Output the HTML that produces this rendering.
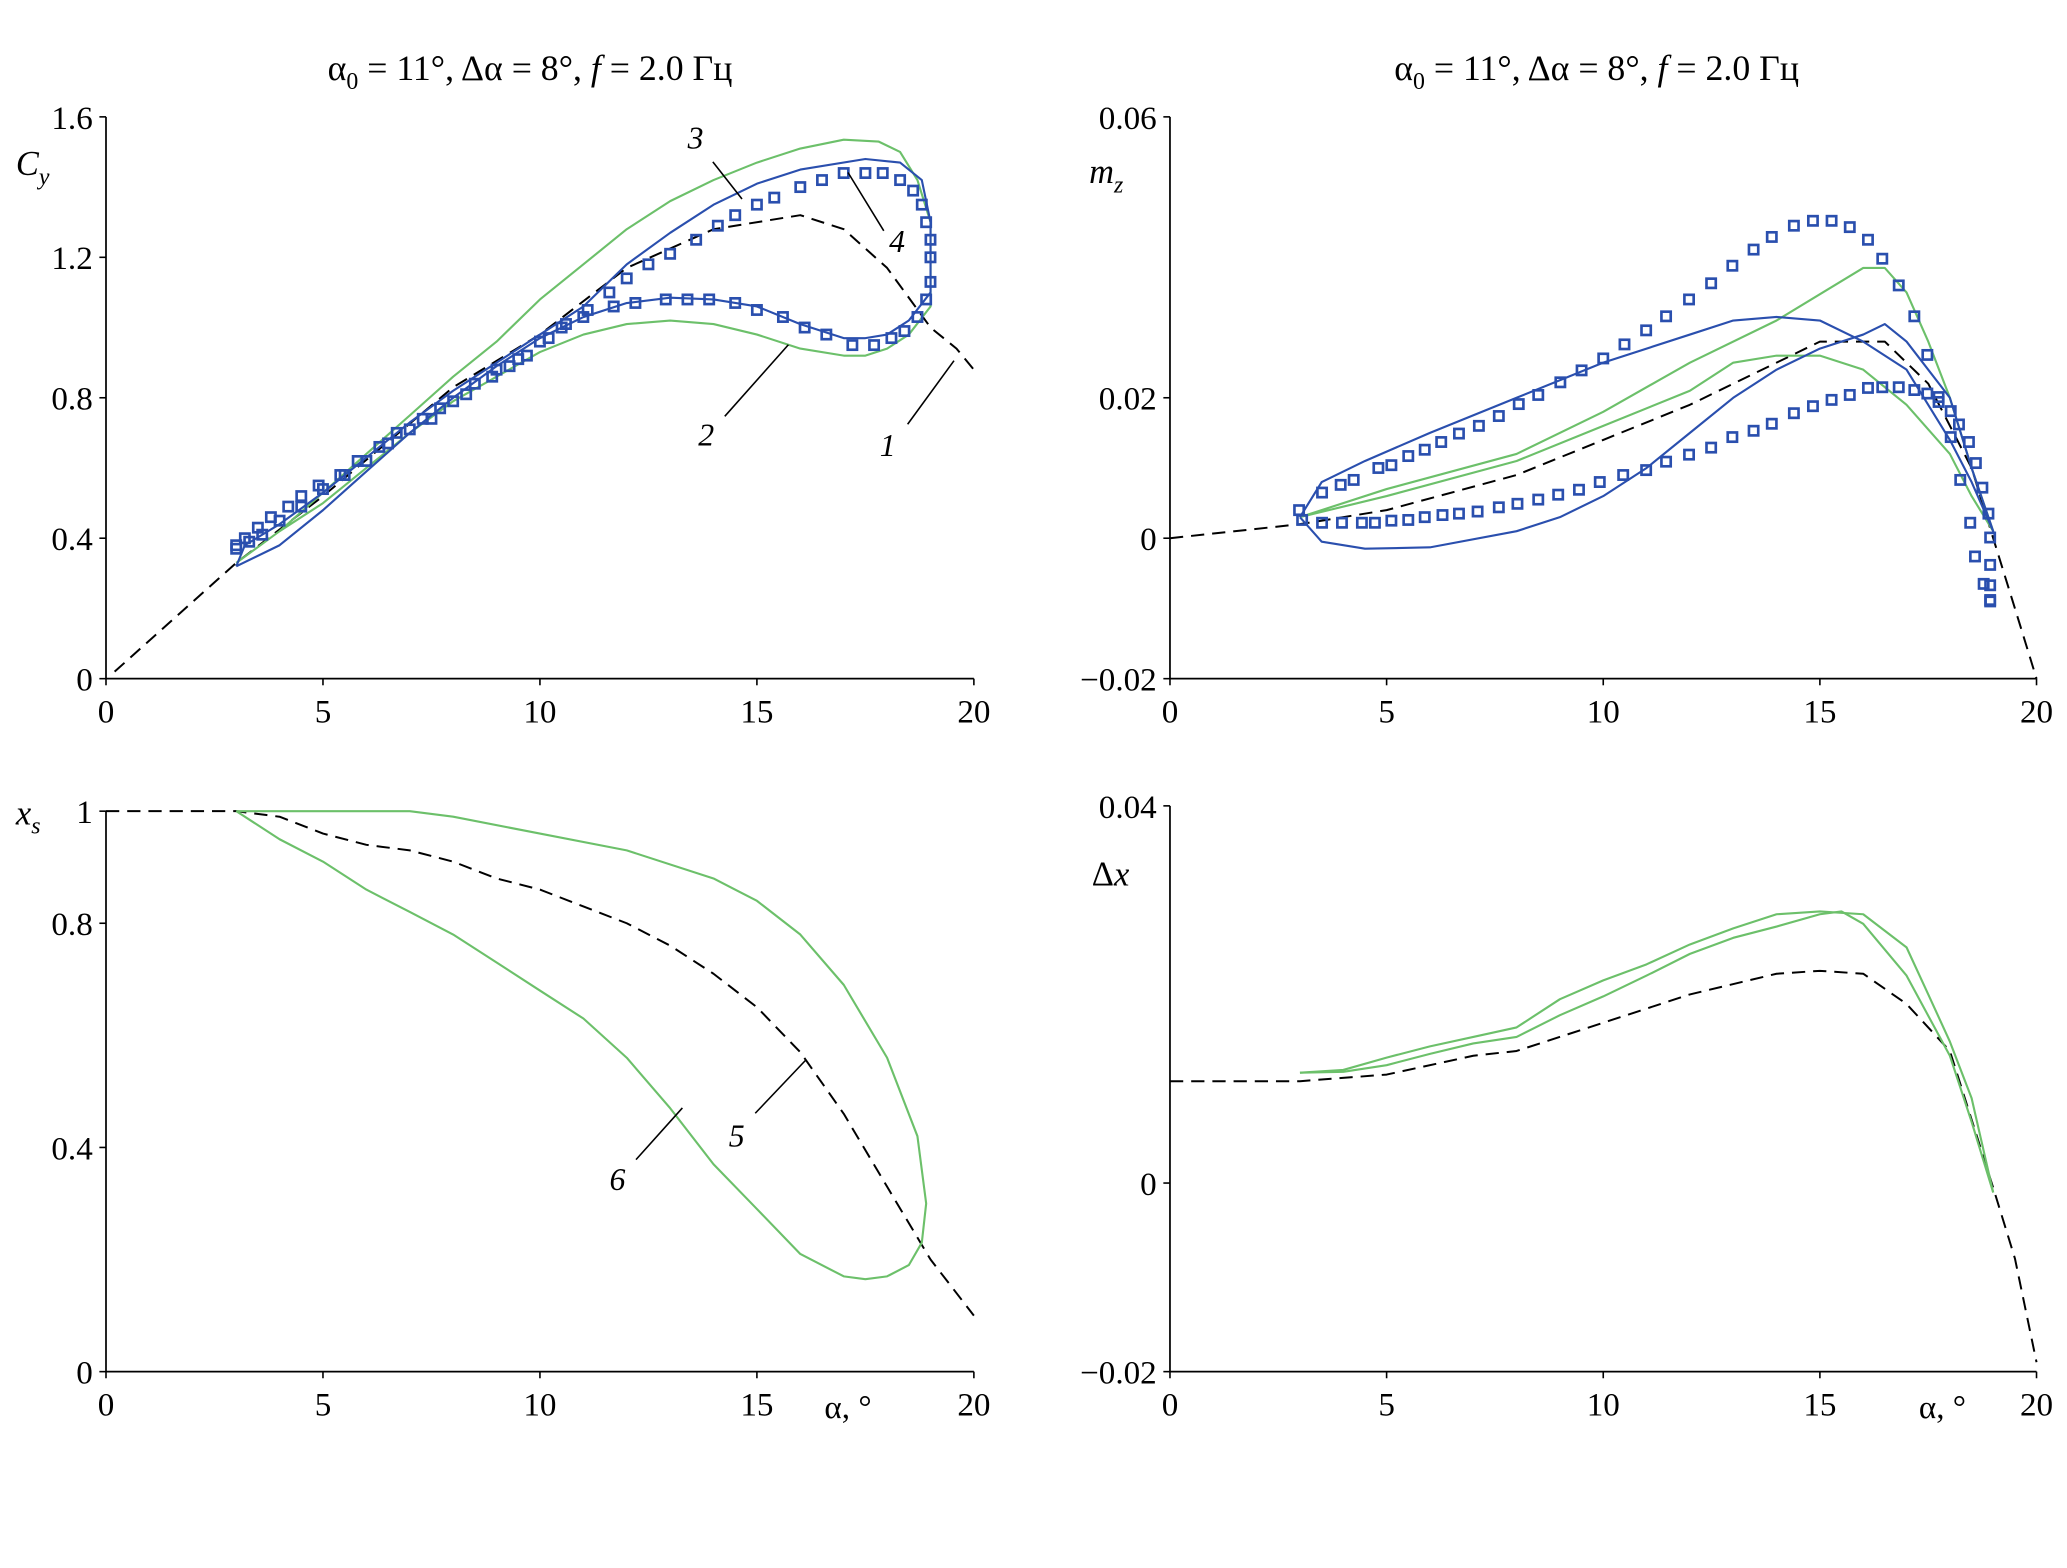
<!DOCTYPE html>
<html><head><meta charset="utf-8">
<style>
html,body{margin:0;padding:0;background:#fff;}
svg{display:block;font-family:"Liberation Serif",serif;}
</style></head>
<body>
<svg id="fig" width="2067" height="1568" viewBox="0 0 1560 1183" xmlns="http://www.w3.org/2000/svg">
<rect width="1560" height="1183" fill="#fff"/>
<text x="400" y="60" font-size="27" text-anchor="middle">α<tspan font-size="18" dy="7">0</tspan><tspan dy="-7"> = 11°, Δα = 8°, </tspan><tspan font-style="italic">f</tspan> = 2.0 Гц</text>
<text x="1205" y="60" font-size="27" text-anchor="middle">α<tspan font-size="18" dy="7">0</tspan><tspan dy="-7"> = 11°, Δα = 8°, </tspan><tspan font-style="italic">f</tspan> = 2.0 Гц</text>
<text x="12" y="132" font-size="26" font-style="italic">C<tspan font-size="18" dy="7">y</tspan></text>
<text x="822" y="138" font-size="26" font-style="italic">m<tspan font-size="18" dy="7">z</tspan></text>
<text x="12" y="622" font-size="26" font-style="italic">x<tspan font-size="18" dy="7">s</tspan></text>
<text x="824" y="668" font-size="26">Δ<tspan font-style="italic">x</tspan></text>
<text x="640" y="1070" font-size="25" text-anchor="middle">α, °</text>
<text x="1466" y="1070" font-size="25" text-anchor="middle">α, °</text>
<g id="plots"></g>
</svg>
<script>
// ---- Cy panel data
const cyStaticA=[0.2,3,5,8,10,12,14,16,17,18,19,19.6,20];
const cyStaticV=[0.02,0.33,0.52,0.83,0.98,1.17,1.28,1.32,1.28,1.17,1.0,0.94,0.88];
const cyGreenA=[3,4,5,6,7,8,9,10,11,12,13,14,15,16,17,17.5,18,18.5,19,19,18.7,18.3,17.8,17,16,15,14,13,12,11,10,9,8,7,6,5,4,3];
const cyGreenV=[0.33,0.42,0.5,0.6,0.7,0.79,0.86,0.93,0.98,1.01,1.02,1.01,0.98,0.94,0.92,0.92,0.94,0.98,1.06,1.3,1.42,1.5,1.53,1.535,1.51,1.47,1.42,1.36,1.28,1.18,1.08,0.96,0.86,0.75,0.64,0.53,0.42,0.33];
const cyBlueA=[3,4,5,6,7,8,9,10,11,12,13,14,15,16,17,17.5,18,18.5,19,19,18.8,18.3,17.5,16,15,14,13,12,11,10,9,8,7,6,5,4,3.2,3];
const cyBlueV=[0.32,0.38,0.48,0.59,0.7,0.8,0.89,0.97,1.03,1.07,1.085,1.08,1.06,1.01,0.97,0.97,0.98,1.02,1.1,1.3,1.42,1.47,1.48,1.45,1.41,1.35,1.27,1.18,1.06,0.98,0.9,0.82,0.73,0.63,0.53,0.44,0.38,0.32];
const cyExpA=[3,3.2,3.5,3.8,4.2,4.5,4.9,5.4,5.8,6.3,6.7,7.3,7.7,8.3,8.9,9.3,9.7,10.2,10.6,11.1,11.6,12,12.5,13,13.6,14.1,14.5,15,15.4,16,16.5,17,17.5,17.9,18.3,18.6,18.8,18.9,19,19,19,18.9,18.7,18.4,18.1,17.7,17.2,16.6,16.1,15.6,15,14.5,13.9,13.4,12.9,12.2,11.7,11,10.5,10,9.5,9,8.5,8,7.5,7,6.5,6,5.5,5,4.5,4,3.6,3.3,3];
const cyExpV=[0.38,0.4,0.43,0.46,0.49,0.52,0.55,0.58,0.62,0.66,0.7,0.74,0.77,0.81,0.86,0.89,0.92,0.97,1.01,1.05,1.1,1.14,1.18,1.21,1.25,1.29,1.32,1.35,1.37,1.4,1.42,1.44,1.44,1.44,1.42,1.39,1.35,1.3,1.25,1.2,1.13,1.08,1.03,0.99,0.97,0.95,0.95,0.98,1.0,1.03,1.05,1.07,1.08,1.08,1.08,1.07,1.06,1.03,1.0,0.96,0.91,0.88,0.84,0.79,0.74,0.71,0.67,0.62,0.58,0.54,0.49,0.45,0.41,0.39,0.37];
// ---- mz panel data
const mzStaticA=[0,3,5,8,10,12,14,15,16.5,17.5,18.5,19,19.5,20];
const mzStaticV=[0,0.002,0.004,0.009,0.014,0.019,0.025,0.028,0.028,0.022,0.01,0.0,-0.01,-0.02];
const mzGreenA=[3,5,8,10,12,14,16,16.5,17,17.5,18,18.5,19,18.5,18,17,16,15,14,13,12,10,8,5,3];
const mzGreenV=[0.003,0.007,0.012,0.018,0.025,0.031,0.0385,0.0385,0.035,0.028,0.02,0.01,0.001,0.006,0.012,0.019,0.024,0.026,0.026,0.025,0.021,0.016,0.011,0.006,0.003];
const mzBlueA=[3,3.5,4.5,6,8,9,10,11,12,13,14,15,16,16.5,17,18,18.5,19,18.5,18,17,16,15,14,13,12,10,8,6,4.5,3.5,3];
const mzBlueV=[0.003,-0.0005,-0.0015,-0.0013,0.001,0.003,0.006,0.010,0.015,0.020,0.024,0.027,0.029,0.0305,0.028,0.02,0.01,0.001,0.008,0.014,0.024,0.028,0.031,0.0315,0.031,0.029,0.025,0.020,0.015,0.011,0.008,0.003];
const mzExpUpA=[2.98,3.51,3.94,4.24,4.81,5.11,5.5,5.88,6.26,6.67,7.13,7.59,8.05,8.5,9.01,9.5,10,10.49,10.99,11.45,11.98,12.49,12.98,13.47,13.89,14.4,14.84,15.27,15.69,16.11,16.44,16.82,17.18,17.48,17.74,18.02,18.24,18.47,18.58,18.78,18.93];
const mzExpUpV=[0.004,0.0065,0.0076,0.0083,0.01,0.0104,0.0117,0.0126,0.0137,0.0149,0.016,0.0174,0.0191,0.0204,0.0222,0.0239,0.0256,0.0276,0.0296,0.0316,0.034,0.0363,0.0388,0.0411,0.0429,0.0445,0.0452,0.0452,0.0443,0.0425,0.0398,0.036,0.0316,0.0261,0.0201,0.0144,0.0083,0.0022,-0.0026,-0.0065,-0.009];
const mzExpLoA=[3.05,3.51,3.97,4.43,4.73,5.11,5.5,5.88,6.29,6.67,7.1,7.59,8.02,8.5,8.96,9.44,9.92,10.46,10.99,11.45,11.98,12.49,12.98,13.47,13.89,14.4,14.84,15.27,15.69,16.11,16.44,16.82,17.18,17.48,17.74,18.02,18.21,18.44,18.6,18.75,18.89,18.93,18.93,18.93,18.93];
const mzExpLoV=[0.0026,0.0022,0.0022,0.0022,0.0022,0.0025,0.0026,0.003,0.0033,0.0035,0.0038,0.0044,0.0049,0.0055,0.0062,0.0069,0.008,0.009,0.0097,0.0109,0.0119,0.0129,0.0144,0.0153,0.0163,0.0178,0.0188,0.0197,0.0204,0.0214,0.0215,0.0215,0.0211,0.0206,0.0194,0.0181,0.0162,0.0137,0.0107,0.0072,0.0035,0.0001,-0.0038,-0.0067,-0.0088];
// ---- xs panel data
const xsStaticA=[0,3,4,5,6,7,8,9,10,11,12,13,14,15,16,17,18,19,20];
const xsStaticV=[1,1,0.99,0.96,0.94,0.93,0.91,0.88,0.86,0.83,0.8,0.76,0.71,0.65,0.57,0.46,0.33,0.2,0.1];
const xsGreenA=[3,5,7,8,10,12,14,15,16,17,18,18.7,18.9,18.8,18.5,18,17.5,17,16,15,14,13,12,11,10,9,8,7,6,5,4,3];
const xsGreenV=[1,1,1,0.99,0.96,0.93,0.88,0.84,0.78,0.69,0.56,0.42,0.3,0.23,0.19,0.17,0.165,0.17,0.21,0.29,0.37,0.47,0.56,0.63,0.68,0.73,0.78,0.82,0.86,0.91,0.95,1];
// ---- dx panel data
const dxStaticA=[0,3,5,7,8,10,12,14,15,16,17,18,19,19.5,20];
const dxStaticV=[0.0108,0.0108,0.0115,0.0135,0.014,0.017,0.02,0.0222,0.0225,0.0222,0.019,0.014,-0.0005,-0.008,-0.019];
const dxGreen1A=[3,4,5,6,7,8,9,10,11,12,13,14,15,16,17,17.5,18,18.5,19];
const dxGreen1V=[0.0117,0.012,0.0133,0.0145,0.0155,0.0165,0.0195,0.0215,0.0232,0.0253,0.027,0.0285,0.0288,0.0285,0.025,0.02,0.015,0.009,-0.001];
const dxGreen2A=[3,4,5,6,7,8,9,10,11,12,13,14,15,15.5,16,17,18,18.5,19];
const dxGreen2V=[0.0117,0.0118,0.0125,0.0137,0.0148,0.0155,0.0178,0.0198,0.022,0.0243,0.026,0.0272,0.0285,0.0288,0.0275,0.022,0.0135,0.0065,-0.001];
const xTicks=[0,5,10,15,20];

const NS="http://www.w3.org/2000/svg";
const root=document.getElementById('plots');
function mk(tag,attrs,parent){const e=document.createElementNS(NS,tag);for(const k in attrs)e.setAttribute(k,attrs[k]);(parent||root).appendChild(e);return e;}
function panel(name,x0,x1,yb,yt,vmin,vmax,yTicks,yLabels,xLabels){
  const g=mk('g',{});
  
  
  const sx=a=>x0+(a-0)/20*(x1-x0);
  const sy=v=>yb-(v-vmin)/(vmax-vmin)*(yb-yt);
  const ax=mk('path',{d:`M${x0} ${yt}V${yb}H${x1}`,fill:'none',stroke:'#000','stroke-width':1.3},g);
  
  
  yTicks.forEach((t,i)=>{
    mk('line',{x1:x0-5,x2:x0,y1:sy(t),y2:sy(t),stroke:'#000','stroke-width':1.2},g);
    const tx=mk('text',{x:x0-10,y:sy(t)+9,'font-size':25,'text-anchor':'end'},g);
    
    
    tx.textContent=yLabels[i];
  });
  xTicks.forEach((t,i)=>{
    mk('line',{x1:sx(t),x2:sx(t),y1:yb,y2:yb+5,stroke:'#000','stroke-width':1.2},g);
    if(xLabels[i]==null)return;
    const tx=mk('text',{x:sx(t),y:yb+33,'font-size':25,'text-anchor':'middle'},g);
    
    
    tx.textContent=xLabels[i];
  });
  return {g,sx,sy};
}
function line(p,A,V,color,dash,name,w){
  const d=A.map((a,i)=>(i?'L':'M')+p.sx(a).toFixed(1)+' '+p.sy(V[i]).toFixed(1)).join('');
  const e=mk('path',{d,fill:'none',stroke:color,'stroke-width':w||1.6,'stroke-linejoin':'round'},p.g);
  if(dash)e.setAttribute('stroke-dasharray',dash);
  
  
}
function squares(p,A,V,name){
  const g=mk('g',{},p.g);
  
  
  A.forEach((a,i)=>{
    const r=mk('rect',{x:p.sx(a)-3.5,y:p.sy(V[i])-3.5,width:7,height:7,fill:'none',stroke:'#2a4fae','stroke-width':2},g);
    
    
  });
}
function label(p,txt,x,y,lx1,ly1,lx2,ly2){
  const t=mk('text',{x,y,'font-size':24,'font-style':'italic','text-anchor':'middle'},p.g);
  
  
  t.textContent=txt;
  const l=mk('line',{x1:lx1,y1:ly1,x2:lx2,y2:ly2,stroke:'#000','stroke-width':1.2},p.g);
  
  
}
const G='#6cc06a',B='#2a4fae',D='10 6';
// Cy
const p1=panel('cy-panel',80,735,512,88,0,1.6,[0,0.4,0.8,1.2,1.6],['0','0.4','0.8','1.2','1.6'],['0','5','10','15','20']);
line(p1,cyStaticA,cyStaticV,'#000',D,'cy-static-dashed',1.5);
line(p1,cyGreenA,cyGreenV,G,null,'cy-green-loop');
line(p1,cyBlueA,cyBlueV,B,null,'cy-blue-loop');
squares(p1,cyExpA,cyExpV,'cy-experiment-squares');
label(p1,'3',525,112,538,122,560,150);
label(p1,'4',677,190,667,174,640,130);
label(p1,'2',533,336,547,314,595,260);
label(p1,'1',670,344,685,320,720,272);
// mz
const p2=panel('mz-panel',883,1537,512,88,-0.02,0.06,[-0.02,0,0.02,0.06],['\u22120.02','0','0.02','0.06'],['0','5','10','15','20']);
line(p2,mzStaticA,mzStaticV,'#000',D,'mz-static-dashed',1.5);
line(p2,mzGreenA,mzGreenV,G,null,'mz-green-loop');
line(p2,mzBlueA,mzBlueV,B,null,'mz-blue-loop');
squares(p2,mzExpUpA,mzExpUpV,'mz-experiment-upper');
squares(p2,mzExpLoA,mzExpLoV,'mz-experiment-lower');
// xs
const p3=panel('xs-panel',80,735,1035,612,0,1,[0,0.4,0.8,1],['0','0.4','0.8','1'],['0','5','10','15',null]);
const t20a=mk('text',{x:735,y:1068,'font-size':25,'text-anchor':'middle'},p3.g);t20a.textContent='20';
line(p3,xsStaticA,xsStaticV,'#000',D,'xs-static-dashed',1.5);
line(p3,xsGreenA,xsGreenV,G,null,'xs-green-loop');
label(p3,'5',556,865,570,840,608,800);
label(p3,'6',466,898,480,875,515,836);
// dx
const p4=panel('dx-panel',883,1537,1035,608,-0.02,0.04,[-0.02,0,0.04],['\u22120.02','0','0.04'],['0','5','10','15',null]);
const t20b=mk('text',{x:1537,y:1068,'font-size':25,'text-anchor':'middle'},p4.g);t20b.textContent='20';
line(p4,dxStaticA,dxStaticV,'#000',D,'dx-static-dashed',1.5);
line(p4,dxGreen1A,dxGreen1V,G,null,'dx-green-upper');
line(p4,dxGreen2A,dxGreen2V,G,null,'dx-green-lower');
</script>
</body></html>
